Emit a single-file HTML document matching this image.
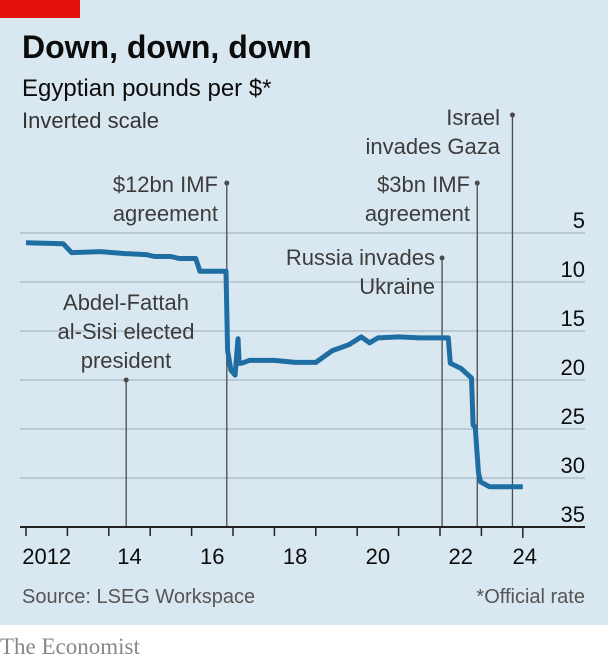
<!DOCTYPE html>
<html><head><meta charset="utf-8"><style>
body{margin:0;width:608px;height:662px;background:#fff;overflow:hidden;font-family:"Liberation Sans",sans-serif}
</style></head><body>
<svg width="608" height="662" viewBox="0 0 608 662">
<rect x="0" y="0" width="608" height="625" fill="#d9e8f0"/>
<rect x="0" y="0" width="80" height="18" fill="#e3120b"/>
<text x="22" y="58" font-size="32" font-weight="bold" fill="#0c0c0c">Down, down, down</text>
<text x="22" y="96" font-size="24" fill="#0c0c0c">Egyptian pounds per $*</text>
<text x="22" y="128" font-size="22" fill="#333">Inverted scale</text>
<g id="grid"></g>
<g id="events"></g>
<g id="series"></g>
<g id="xaxis"></g>
<text x="22" y="603" font-size="20" fill="#555">Source: LSEG Workspace</text>
<text x="585" y="603" font-size="20" fill="#555" text-anchor="end">*Official rate</text>
<text x="0" y="654" font-size="23" fill="#888" font-family="Liberation Serif,serif">The Economist</text>
</svg>
<script>
const yTicks=[5,10,15,20,25,30,35];
const xYears=[2012,2013,2014,2015,2016,2017,2018,2019,2020,2021,2022,2023,2024];
const xLabels=["2012","14","16","18","20","22","24"];
const xLabelYears=[2012,2014,2016,2018,2020,2022,2024];
const seriesT=[2012.0,2012.9,2013.1,2013.8,2014.4,2014.9,2015.1,2015.5,2015.7,2016.1,2016.2,2016.83,2016.87,2016.95,2017.05,2017.12,2017.15,2017.2,2017.4,2018.0,2018.5,2019.0,2019.4,2019.8,2020.1,2020.3,2020.5,2021.0,2021.5,2022.2,2022.25,2022.5,2022.76,2022.8,2022.85,2022.93,2022.98,2023.2,2024.0];
const seriesV=[6.0,6.1,7.0,6.9,7.1,7.2,7.4,7.4,7.6,7.6,8.9,8.9,17.0,19.0,19.5,15.8,18.3,18.3,18.0,18.0,18.2,18.2,17.0,16.4,15.6,16.2,15.7,15.6,15.7,15.7,18.3,18.8,19.8,24.6,24.8,29.5,30.4,30.9,30.9];
const eventNames=["sisi-elected","imf-12bn","russia-invades","imf-3bn","israel-gaza"];
const eventT=[2014.42,2016.85,2022.05,2022.9,2023.75];
const eventTop=[380,183,258,183,115];
const ns="http://www.w3.org/2000/svg";
const X=t=>26+41.4*(t-2012);
const Y=v=>233+(v-5)*9.8;
function mk(tag,attrs,parent){const e=document.createElementNS(ns,tag);for(const k in attrs)e.setAttribute(k,attrs[k]);document.getElementById(parent).appendChild(e);return e;}
yTicks.forEach(v=>{
  if(v<35){const l=mk('line',{x1:20,x2:585,y1:Y(v),y2:Y(v),stroke:'#a9b8c2','stroke-width':1.3},'grid');
  
  }
  const t=mk('text',{x:585,y:Y(v)-5,'font-size':22,fill:'#0c0c0c','text-anchor':'end'},'grid');
  t.textContent=v;
  
  
});
eventT.forEach((t,i)=>{
  const l=mk('line',{x1:X(t),x2:X(t),y1:eventTop[i],y2:Y(35),stroke:'#4a4a4a','stroke-width':1.3},'events');
  
  
  const c=mk('circle',{cx:X(t),cy:eventTop[i],r:2.5,fill:'#4a4a4a'},'events');
  
  
});
const ann=[
 [["Abdel-Fattah","al-Sisi elected","president"],126,310,'middle','sisi-annotation'],
 [["$12bn IMF","agreement"],218,192,'end','imf-12bn-annotation'],
 [["Russia invades","Ukraine"],435,265,'end','russia-annotation'],
 [["$3bn IMF","agreement"],470,192,'end','imf-3bn-annotation'],
 [["Israel","invades Gaza"],500,125,'end','israel-annotation']];
ann.forEach(a=>{
  const t=mk('text',{x:a[1],y:a[2],'font-size':22,fill:'#3c3c3c','text-anchor':a[3]},'events');
  
  
  a[0].forEach((s,j)=>{const sp=document.createElementNS(ns,'tspan');sp.setAttribute('x',a[1]);sp.setAttribute('dy',j?29:0);sp.textContent=s;t.appendChild(sp);});
});
let d='';
seriesT.forEach((t,i)=>{d+=(i?'L':'M')+X(t).toFixed(1)+','+Y(seriesV[i]).toFixed(1);});
const p=mk('path',{d:d,fill:'none',stroke:'#1f6ea3','stroke-width':5,'stroke-linejoin':'round'},'series');


const ax=mk('line',{x1:20,x2:585,y1:Y(35),y2:Y(35),stroke:'#222','stroke-width':2},'xaxis');


xYears.forEach((yr,i)=>{
  const tk=mk('line',{x1:X(yr),x2:X(yr),y1:Y(35),y2:Y(35)+(i==xYears.length-1?11:9),stroke:'#222','stroke-width':1.5},'xaxis');
  
  
});
xLabels.forEach((s,i)=>{
  const yr=xLabelYears[i];
  const cx=yr===2024?X(yr)+2:X(yr+0.5);
  const t=mk('text',{x:cx,y:564,'font-size':22,fill:'#0c0c0c','text-anchor':'middle'},'xaxis');
  t.textContent=s;
  
  
});
</script>
</body></html>
